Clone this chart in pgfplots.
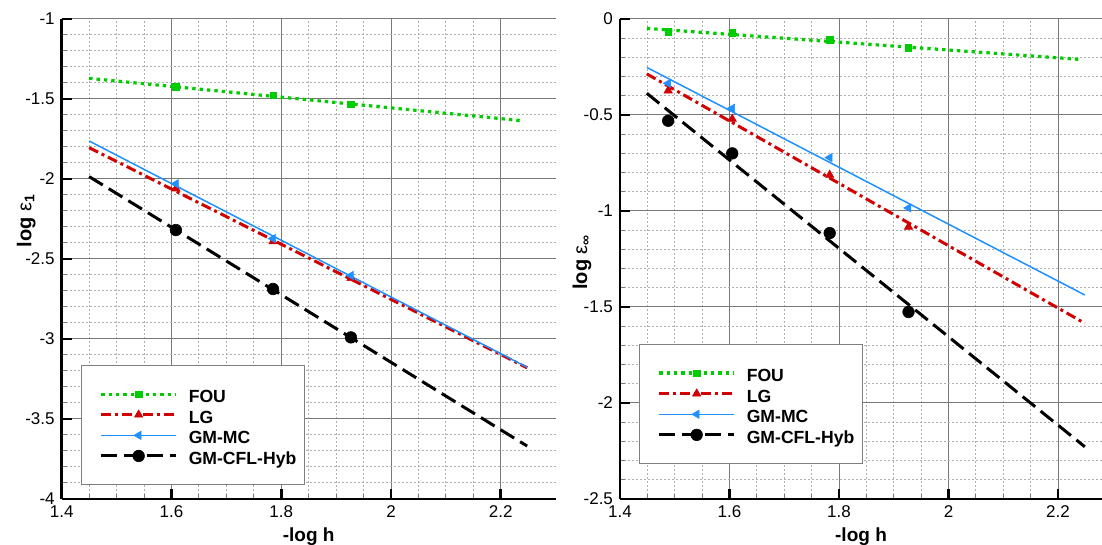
\documentclass[border=0pt]{standalone}
\usepackage{pgfplots}
\pgfplotsset{compat=1.18}
\usepackage{fontspec}
\setmainfont{Liberation Sans}
\definecolor{cfou}{RGB}{0,204,0}
\definecolor{clg}{RGB}{210,0,0}
\definecolor{cgm}{RGB}{30,144,255}
\definecolor{cgrid}{RGB}{120,120,120}
\definecolor{cmgrid}{RGB}{175,175,175}

\pgfplotsset{
  fouline/.style={cfou, line width=1.6pt, dash pattern=on 1.7pt off 2pt, mark=square*, mark size=1.6pt, mark options={solid, line width=0.3pt}},
  lgline/.style={clg, line width=1.5pt, dash pattern=on 5pt off 2pt on 1.5pt off 2pt, mark=triangle*, mark size=2.4pt, mark options={solid, line width=0.3pt}},
  gmline/.style={cgm, line width=0.75pt, mark=triangle*, mark size=2.4pt, mark options={solid, rotate=90, line width=0.3pt}},
  hybline/.style={black, line width=1.5pt, dash pattern=on 8pt off 3.5pt, mark=*, mark size=2.9pt, mark options={solid, line width=0.3pt}},
  myaxis/.style={
    scale only axis,
    axis x line*=bottom, axis y line*=left,
    axis line style={line width=1.4pt, black, -},
    xmin=1.4,
    xtick={1.4,1.6,1.8,2,2.2},
    minor x tick num=3, minor y tick num=4,
    grid=both,
    major grid style={cgrid, line width=0.5pt},
    minor grid style={cmgrid, line width=0.5pt, dash pattern=on 1pt off 1pt},
    tick align=inside,
    major tick length=5pt, minor tick length=2.5pt,
    major tick style={line width=1.4pt, black},
    minor tick style={line width=0.5pt, cgrid},
    /pgf/number format/assume math mode=true,
    /pgf/number format/fixed,
    ticklabel style={font=\fontsize{8.5}{10}\selectfont},
    xlabel={\bfseries -log h},
    xlabel style={font=\fontsize{9.5}{11}\selectfont, yshift=2pt},
    ylabel style={font=\fontsize{10}{12}\selectfont, anchor=center, rotate=0},
    legend cell align=left,
    legend image code/.code={\draw[mark repeat=2, mark phase=2, #1] plot coordinates {(0pt,0pt) (18.75pt,0pt) (37.5pt,0pt)};},
    legend style={anchor=north west, draw=gray, line width=0.6pt, fill=white,
      inner xsep=9pt, inner ysep=9.5pt, row sep=0.8pt, column sep=5.5pt,
      font=\bfseries\fontsize{8.8}{10}\selectfont,
      nodes={inner sep=0pt, text height=9pt, text depth=0.5pt}},
  }
}

\begin{document}
\begin{tikzpicture}
\useasboundingbox (-30.85pt,-23pt) rectangle (520.15pt,249.5pt);

% ---------- left: log eps_1 ----------
\begin{axis}[myaxis, at={(0pt,0pt)}, anchor=south west,
  width=247pt, height=240pt,
  xmax=2.3, ymin=-4, ymax=-1,
  ytick={-4,-3.5,-3,-2.5,-2,-1.5,-1},
  ylabel={\bfseries log {\mdseries ε}\textsubscript{1}},
  ylabel style={at={(axis description cs:-0.072,0.58)}},
  legend style={at={(0.039,0.279)}}]
% fitted lines
\addplot[fouline, no marks, forget plot] coordinates {(1.45,-1.371) (2.24,-1.636)};
\addplot[lgline, no marks, forget plot] coordinates {(1.45,-1.804) (2.248,-3.18)};
\addplot[gmline, no marks, forget plot] coordinates {(1.45,-1.7625) (2.248,-3.177)};
\addplot[hybline, no marks, forget plot] coordinates {(1.45,-1.985) (2.248,-3.669)};
% data points
\addplot[fouline, only marks, forget plot] coordinates {(1.608,-1.423) (1.785,-1.477) (1.927,-1.532)};
\addplot[lgline, only marks, forget plot] coordinates {(1.608,-2.06) (1.785,-2.39) (1.927,-2.62)};
\addplot[gmline, only marks, forget plot] coordinates {(1.608,-2.03) (1.785,-2.372) (1.927,-2.603)};
\addplot[hybline, only marks, forget plot] coordinates {(1.608,-2.319) (1.785,-2.6875) (1.927,-2.99)};
\addlegendimage{fouline}\addlegendentry{FOU}
\addlegendimage{lgline}\addlegendentry{LG}
\addlegendimage{gmline}\addlegendentry{GM-MC}
\addlegendimage{hybline}\addlegendentry{\makebox[49pt][l]{GM-CFL-Hyb}}
\end{axis}

% ---------- right: log eps_inf ----------
\begin{axis}[myaxis, at={(279.15pt,0pt)}, anchor=south west,
  width=241pt, height=240pt,
  xmax=2.2804, ymin=-2.5, ymax=0,
  ytick={-2.5,-2,-1.5,-1,-0.5,0},
  ylabel={\bfseries log {\mdseries ε}\textsubscript{∞}},
  ylabel style={at={(axis description cs:-0.079,0.494)}},
  legend style={at={(0.0394,0.323)}}]
\addplot[fouline, no marks, forget plot] coordinates {(1.449,-0.049) (2.238,-0.21)};
\addplot[lgline, no marks, forget plot] coordinates {(1.449,-0.286) (2.249,-1.585)};
\addplot[gmline, no marks, forget plot] coordinates {(1.449,-0.252) (2.249,-1.4375)};
\addplot[hybline, no marks, forget plot] coordinates {(1.449,-0.387) (2.249,-2.228)};
\addplot[fouline, only marks, forget plot] coordinates {(1.488,-0.066) (1.605,-0.071) (1.783,-0.109) (1.927,-0.149)};
\addplot[lgline, only marks, forget plot] coordinates {(1.488,-0.373) (1.605,-0.521) (1.783,-0.8125) (1.927,-1.083)};
\addplot[gmline, only marks, forget plot] coordinates {(1.488,-0.335) (1.605,-0.465) (1.783,-0.722) (1.927,-0.984)};
\addplot[hybline, only marks, forget plot] coordinates {(1.488,-0.53) (1.605,-0.70) (1.783,-1.115) (1.927,-1.526)};
\addlegendimage{fouline}\addlegendentry{FOU}
\addlegendimage{lgline}\addlegendentry{LG}
\addlegendimage{gmline}\addlegendentry{GM-MC}
\addlegendimage{hybline}\addlegendentry{\makebox[49pt][l]{GM-CFL-Hyb}}
\end{axis}
\end{tikzpicture}
\end{document}
